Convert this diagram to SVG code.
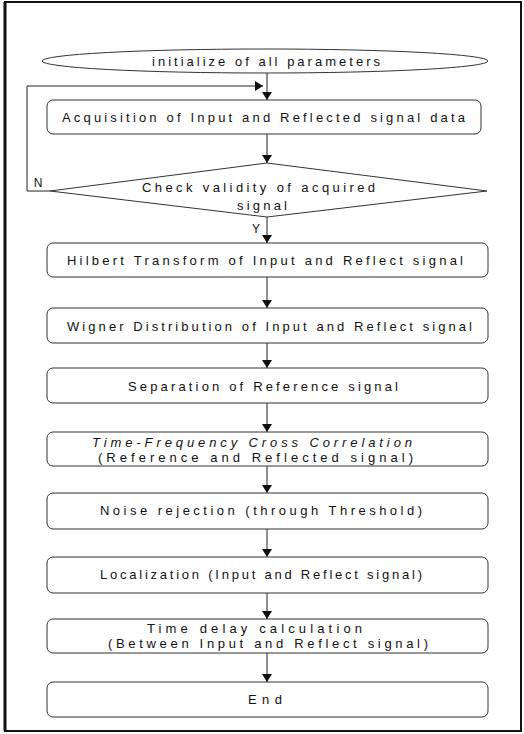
<svg xmlns="http://www.w3.org/2000/svg" width="524" height="734" viewBox="0 0 524 734">
<style>
.box{fill:#fff;stroke:#333;stroke-width:1}
.t{font-family:"Liberation Sans",Arial,sans-serif;font-size:13px;fill:#111;text-anchor:middle}
.it{font-style:italic}
.c{fill:none;stroke:#222;stroke-width:1}
</style>
<defs>
<marker id="ah" markerWidth="8" markerHeight="10" refX="8" refY="5" orient="auto" markerUnits="userSpaceOnUse" viewBox="0 0 8 10">
<path d="M0,0 L8,5 L0,10 Z" fill="#111"/>
</marker>
</defs>
<rect x="0" y="0" width="524" height="734" fill="#fff"/>
<rect x="5" y="2" width="516" height="729" fill="none" stroke="#111" stroke-width="2"/>
<line x1="5" y1="2" x2="5" y2="731" stroke="#111" stroke-width="3"/>

<g id="connectors">
<line class="c" x1="267" y1="72" x2="267" y2="100" marker-end="url(#ah)"/>
<polyline class="c" points="50,191 27,191 27,86 263,86" marker-end="url(#ah)"/>
<line class="c" x1="267" y1="134" x2="267" y2="163" marker-end="url(#ah)"/>
<line class="c" x1="267" y1="217" x2="267" y2="243" marker-end="url(#ah)"/>
<line class="c" x1="267" y1="277" x2="267" y2="308" marker-end="url(#ah)"/>
<line class="c" x1="267" y1="343" x2="267" y2="368" marker-end="url(#ah)"/>
<line class="c" x1="267" y1="403" x2="267" y2="432" marker-end="url(#ah)"/>
<line class="c" x1="267" y1="466" x2="267" y2="493" marker-end="url(#ah)"/>
<line class="c" x1="267" y1="529" x2="267" y2="557" marker-end="url(#ah)"/>
<line class="c" x1="267" y1="593" x2="267" y2="619" marker-end="url(#ah)"/>
<line class="c" x1="267" y1="653" x2="267" y2="682" marker-end="url(#ah)"/>
<text class="t" x="38" y="187" style="font-size:12px">N</text>
<text class="t" x="256" y="233" style="font-size:12px">Y</text>
</g>

<g id="n-init">
<ellipse class="box" cx="265" cy="61" rx="223" ry="12"/>
<text class="t" x="266" y="65.5" textLength="228" lengthAdjust="spacing">initialize of all parameters</text>
</g>
<g id="n-acq">
<rect class="box" x="47" y="100" width="434" height="34" rx="6"/>
<text class="t" x="263.5" y="122" textLength="403" lengthAdjust="spacing">Acquisition of Input and Reflected signal data</text>
</g>
<g id="n-check">
<polygon class="box" points="267,163 487,191 267,217 50,191"/>
<text class="t" x="258.5" y="192" textLength="233" lengthAdjust="spacing">Check validity of acquired</text>
<text class="t" x="262" y="210" textLength="50" lengthAdjust="spacing">signal</text>
</g>
<g id="n-hilbert">
<rect class="box" x="47" y="243" width="441" height="34" rx="6"/>
<text class="t" x="265" y="265" textLength="396" lengthAdjust="spacing">Hilbert Transform of Input and Reflect signal</text>
</g>
<g id="n-wigner">
<rect class="box" x="47" y="308" width="441" height="35" rx="6"/>
<text class="t" x="269.5" y="331" textLength="405" lengthAdjust="spacing">Wigner Distribution of Input and Reflect signal</text>
</g>
<g id="n-sep">
<rect class="box" x="47" y="368" width="441" height="35" rx="6"/>
<text class="t" x="263" y="391" textLength="270" lengthAdjust="spacing">Separation of Reference signal</text>
</g>
<g id="n-tfcc">
<rect class="box" x="47" y="432" width="441" height="34" rx="6"/>
<text class="t it" x="252" y="447" textLength="320" lengthAdjust="spacing">Time-Frequency Cross Correlation</text>
<text class="t" x="255.5" y="462" textLength="315" lengthAdjust="spacing">(Reference and Reflected signal)</text>
</g>
<g id="n-noise">
<rect class="box" x="47" y="493" width="441" height="36" rx="6"/>
<text class="t" x="261" y="515" textLength="322" lengthAdjust="spacing">Noise rejection (through Threshold)</text>
</g>
<g id="n-local">
<rect class="box" x="47" y="557" width="441" height="36" rx="6"/>
<text class="t" x="261" y="579" textLength="322" lengthAdjust="spacing">Localization (Input and Reflect signal)</text>
</g>
<g id="n-delay">
<rect class="box" x="47" y="619" width="441" height="34" rx="6"/>
<text class="t" x="254.5" y="633" textLength="215" lengthAdjust="spacing">Time delay calculation</text>
<text class="t" x="268" y="648" textLength="320" lengthAdjust="spacing">(Between Input and Reflect signal)</text>
</g>
<g id="n-end">
<rect class="box" x="47" y="682" width="441" height="35" rx="6"/>
<text class="t" x="265" y="704" textLength="34" lengthAdjust="spacing">End</text>
</g>
</svg>
